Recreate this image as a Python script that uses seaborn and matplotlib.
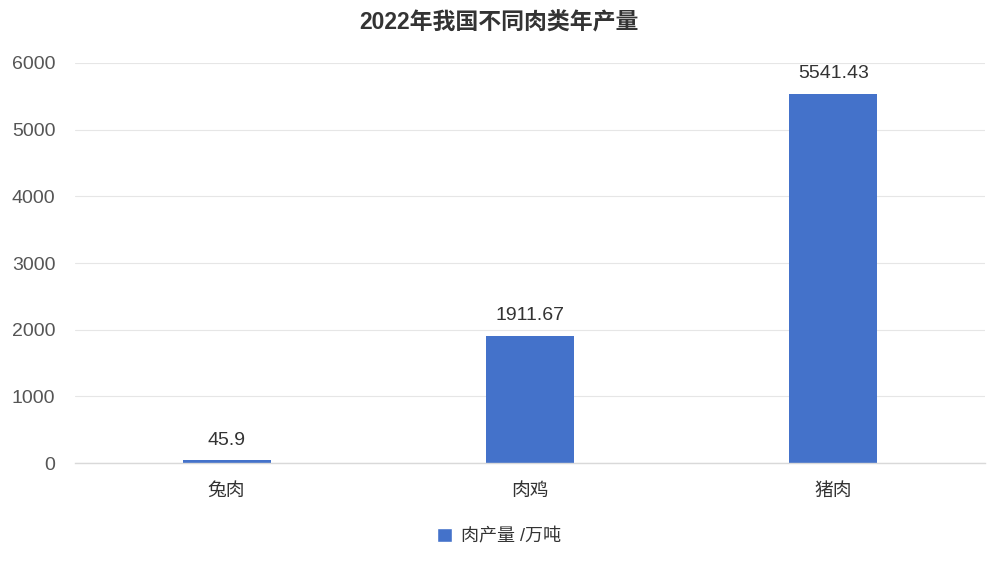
import matplotlib
matplotlib.use("Agg")
import matplotlib.pyplot as plt
import seaborn as sns
import pandas as pd
from matplotlib.patches import Patch

categories = ["兔肉", "肉鸡", "猪肉"]
values = [45.9, 1911.67, 5541.43]
value_labels = ["45.9", "1911.67", "5541.43"]
yticks = [0, 1000, 2000, 3000, 4000, 5000, 6000]
series_name = "肉产量 /万吨"
title = "2022年我国不同肉类年产量"

sns.set_theme(style="white")
plt.rcParams['font.family'] = ['Liberation Sans', 'Noto Sans CJK SC', 'DejaVu Sans']

df = pd.DataFrame({"cat": categories, "val": values})
color = "#4472CA"

fig = plt.figure(figsize=(9.98, 5.62), dpi=100)
ax = fig.add_axes([0.075, 0.176, 0.912, 0.712])
sns.barplot(data=df, x="cat", y="val", color=color, width=0.29, ax=ax,
            saturation=1, edgecolor="none")
ax.set_xlim(-0.5, 2.5)
ax.set_ylim(0, 6000)
ax.set_yticks(yticks)
ax.set_yticklabels([str(t) for t in yticks], fontsize=14, color="#555555")
ax.tick_params(axis="x", labelsize=13.5, colors="#333333", length=0, pad=14)
ax.tick_params(axis="y", length=0, pad=14)
ax.set_xlabel("")
ax.set_ylabel("")
ax.grid(axis="y", color="#e6e6e6", linewidth=0.8)
ax.set_axisbelow(True)
for s in ["top", "right", "left"]:
    ax.spines[s].set_visible(False)
ax.spines["bottom"].set_color("#d9d9d9")
ax.spines["bottom"].set_linewidth(1)

for i, (v, lab) in enumerate(zip(values, value_labels)):
    ax.annotate(lab, (i, v), xytext=(0, 8), textcoords="offset points",
                ha="center", va="bottom", fontsize=14, color="#333333")

fig.suptitle(title, x=0.5, y=0.98, fontsize=16.5, fontweight="bold", color="#333333")
fig.legend(handles=[Patch(facecolor=color, label=series_name)], loc="center",
           bbox_to_anchor=(0.5, 0.045), frameon=False, fontsize=13,
           handlelength=0.8, handleheight=0.8, handletextpad=0.5, labelcolor="#333333")

fig.savefig("out.png", dpi=100)
